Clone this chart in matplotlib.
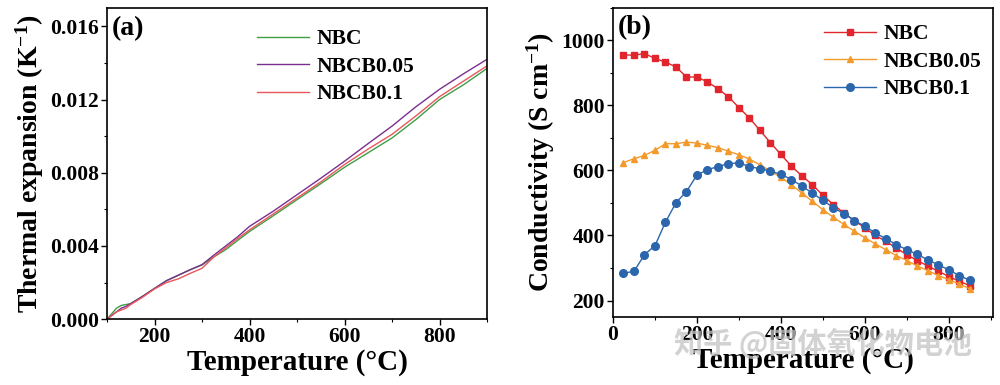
import numpy as np
import matplotlib.pyplot as plt
from matplotlib.ticker import MultipleLocator

plt.rcParams['font.family'] = ['Liberation Serif', 'DejaVu Serif']
plt.rcParams['font.weight'] = 'bold'
plt.rcParams['mathtext.fontset'] = 'custom'
plt.rcParams['mathtext.rm'] = 'Liberation Serif:bold'
plt.rcParams['mathtext.bf'] = 'Liberation Serif:bold'
plt.rcParams['mathtext.default'] = 'bf'

# panel (a): thermal expansion
temp_a = [100, 110, 120, 130, 140, 150, 175, 200, 225, 250, 275, 300, 325, 350, 375,
          400, 450, 500, 550, 600, 650, 700, 750, 800, 850, 900]
exp_nbc = [0.0, 0.0003, 0.0006, 0.00075, 0.0008, 0.00085, 0.00125, 0.00168, 0.0021, 0.0024,
           0.0027, 0.00296, 0.0034, 0.0038, 0.0043, 0.00479, 0.00565, 0.00653, 0.0074, 0.0083,
           0.0091, 0.0099, 0.0109, 0.0120, 0.0128, 0.0137]
exp_nbcb005 = [0.0, 0.0002, 0.0004, 0.0006, 0.0007, 0.00085, 0.00125, 0.00168, 0.0021, 0.0024,
               0.0027, 0.00298, 0.0035, 0.0040, 0.0045, 0.00507, 0.0059, 0.0068, 0.0077, 0.00863,
               0.0096, 0.01055, 0.0116, 0.01256, 0.0134, 0.0142]
exp_nbcb01 = [0.0, 0.0002, 0.0004, 0.0005, 0.0006, 0.0008, 0.0012, 0.00165, 0.002, 0.0022,
              0.0025, 0.00278, 0.0034, 0.0039, 0.0044, 0.00488, 0.00575, 0.00662, 0.0075, 0.00845,
              0.0093, 0.0101, 0.0111, 0.01216, 0.0130, 0.01384]

# panel (b): conductivity
temp_b = list(range(25, 851, 25))
cond_nbc = [955, 954, 959, 944, 933, 918, 887, 887, 872, 851, 826, 793, 761, 723, 685, 649,
            613, 583, 556, 523, 495, 469, 446, 423, 400, 382, 361, 341, 323, 306, 290, 274,
            259, 246]
cond_nbcb005 = [624, 636, 646, 662, 682, 682, 687, 684, 677, 670, 659, 648, 635, 617, 598, 579,
                556, 530, 505, 479, 456, 434, 413, 393, 374, 356, 338, 323, 306, 292, 277, 264,
                251, 236]
cond_nbcb01 = [284, 290, 341, 369, 441, 501, 535, 586, 602, 612, 621, 623, 612, 605, 598, 588,
               572, 552, 530, 508, 485, 467, 446, 428, 408, 390, 372, 356, 342, 325, 310, 294,
               277, 262]

fig = plt.figure(figsize=(10, 3.85), dpi=100)
ax1 = fig.add_axes([0.107, 0.171, 0.380, 0.808])
ax2 = fig.add_axes([0.613, 0.177, 0.380, 0.803])

ax1.plot(temp_a, exp_nbc, color='#3f9f45', lw=1.0, label='NBC')
ax1.plot(temp_a, exp_nbcb005, color='#7a2f8f', lw=1.0, label='NBCB0.05')
ax1.plot(temp_a, exp_nbcb01, color='#e8575c', lw=1.0, label='NBCB0.1')
ax1.set_xlim(100, 900)
ax1.set_ylim(0, 0.017)
ax1.xaxis.set_major_locator(MultipleLocator(200))
ax1.xaxis.set_minor_locator(MultipleLocator(100))
ax1.yaxis.set_major_locator(MultipleLocator(0.004))
ax1.yaxis.set_minor_locator(MultipleLocator(0.002))
ax1.yaxis.set_major_formatter(plt.FormatStrFormatter('%.3f'))
ax1.set_xlabel('Temperature (°C)', fontsize=21, fontweight='bold', labelpad=1)
ax1.set_ylabel('Thermal expansion (K$^{-1}$)', fontsize=20, fontweight='bold', labelpad=3)
ax1.text(0.013, 0.975, '(a)', transform=ax1.transAxes, fontsize=20, fontweight='bold', va='top')
ax1.legend(loc='upper left', bbox_to_anchor=(0.345, 0.995), frameon=False, fontsize=15.5,
           handlelength=2.4, handletextpad=0.35, labelspacing=0.35)

ax2.plot(temp_b, cond_nbc, color='#e0262c', lw=1.0, marker='s', ms=5, label='NBC')
ax2.plot(temp_b, cond_nbcb005, color='#f39a2c', lw=1.0, marker='^', ms=5, label='NBCB0.05')
ax2.plot(temp_b, cond_nbcb01, color='#2b66ad', lw=1.0, marker='o', ms=5.5, label='NBCB0.1')
ax2.set_xlim(0, 905)
ax2.set_ylim(150, 1100)
ax2.xaxis.set_major_locator(MultipleLocator(200))
ax2.xaxis.set_minor_locator(MultipleLocator(100))
ax2.yaxis.set_major_locator(MultipleLocator(200))
ax2.yaxis.set_minor_locator(MultipleLocator(100))
ax2.set_xlabel('Temperature (°C)', fontsize=21, fontweight='bold', labelpad=1)
ax2.set_ylabel('Conductivity (S cm$^{-1}$)', fontsize=20, fontweight='bold', labelpad=3)
ax2.text(0.013, 0.975, '(b)', transform=ax2.transAxes, fontsize=20, fontweight='bold', va='top')
ax2.legend(loc='upper left', bbox_to_anchor=(0.505, 1.01), frameon=False, fontsize=15.5,
           handlelength=2.4, handletextpad=0.35, labelspacing=0.35)

for ax in (ax1, ax2):
    for s in ax.spines.values():
        s.set_linewidth(1.2)
    ax.tick_params(which='major', direction='out', length=4, width=1.0, labelsize=15.5, pad=2)
    ax.tick_params(which='minor', direction='out', length=2.5, width=0.8)
    for lab in ax.get_xticklabels() + ax.get_yticklabels():
        lab.set_fontweight('bold')

# watermark
fig.text(0.823, 0.107, '知乎 @固体氧化物电池', fontsize=21, color='#c4c4c4', alpha=0.75,
         ha='center', va='center', family=['Noto Sans CJK SC', 'DejaVu Sans'])

fig.savefig('out.png', dpi=100)
